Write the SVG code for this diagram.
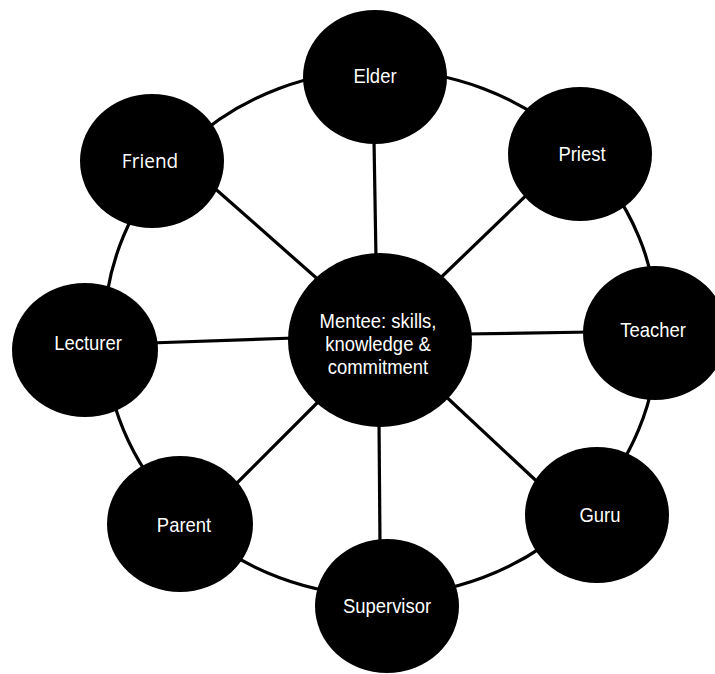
<svg xmlns="http://www.w3.org/2000/svg" width="715" height="674" viewBox="0 0 715 674">
<style>
.node{fill:#000}
.lbl{fill:#fff;font-family:"Liberation Sans",Arial,sans-serif;font-size:20.5px;text-anchor:middle}
.lbl2{fill:#fff;font-family:"Open Sans","Noto Sans",sans-serif;font-size:20px;text-anchor:middle}
.conn{stroke:#000;stroke-width:3.2;fill:none}
</style>
<rect width="715" height="674" fill="#fff"/>
<g id="connectors">
<ellipse class="conn" cx="381" cy="333" rx="277" ry="263"/>
<line class="conn" x1="203" y1="178" x2="330" y2="290"/>
<line class="conn" x1="374" y1="140" x2="376" y2="258"/>
<line class="conn" x1="538" y1="184" x2="429" y2="289"/>
<line class="conn" x1="465" y1="334" x2="592" y2="332"/>
<line class="conn" x1="440" y1="391" x2="545" y2="489"/>
<line class="conn" x1="379" y1="420" x2="380" y2="545"/>
<line class="conn" x1="326" y1="394" x2="229" y2="491"/>
<line class="conn" x1="150" y1="343" x2="295" y2="338"/>
</g>
<g id="mentee"><ellipse class="node" cx="380" cy="340" rx="92" ry="87"/>
<text class="lbl" transform="translate(378 328) scale(0.9 1)">Mentee: skills,</text>
<text class="lbl" transform="translate(378 351) scale(0.9 1)">knowledge &amp;</text>
<text class="lbl" transform="translate(378 374) scale(0.9 1)">commitment</text></g>
<g id="elder"><ellipse class="node" cx="375" cy="77" rx="72" ry="67"/><text class="lbl" transform="translate(375 83) scale(0.9 1)">Elder</text></g>
<g id="priest"><ellipse class="node" cx="580" cy="154" rx="72" ry="67"/><text class="lbl" transform="translate(582 161) scale(0.9 1)">Priest</text></g>
<g id="teacher"><ellipse class="node" cx="655" cy="333" rx="72" ry="67"/><text class="lbl" transform="translate(653 337) scale(0.9 1)">Teacher</text></g>
<g id="guru"><ellipse class="node" cx="597" cy="515" rx="72" ry="68"/><text class="lbl" transform="translate(600 522) scale(0.9 1)">Guru</text></g>
<g id="supervisor"><ellipse class="node" cx="387" cy="606" rx="72" ry="67"/><text class="lbl" transform="translate(387 613) scale(0.9 1)">Supervisor</text></g>
<g id="parent"><ellipse class="node" cx="180" cy="524" rx="73" ry="68"/><text class="lbl" transform="translate(184 532) scale(0.9 1)">Parent</text></g>
<g id="lecturer"><ellipse class="node" cx="85" cy="350" rx="73" ry="67"/><text class="lbl" transform="translate(88 350) scale(0.9 1)">Lecturer</text></g>
<g id="friend"><ellipse class="node" cx="152" cy="161" rx="72" ry="67"/><text class="lbl2" transform="translate(150 168) scale(0.95 1)">Friend</text></g>
</svg>
